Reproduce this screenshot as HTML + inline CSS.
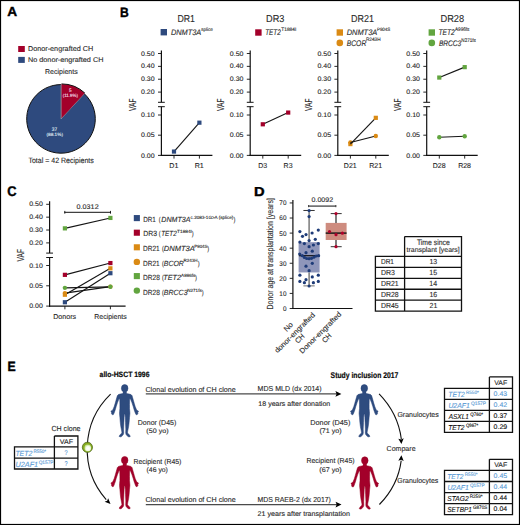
<!DOCTYPE html>
<html><head><meta charset="utf-8"><style>
html,body{margin:0;padding:0;background:#fff;overflow:hidden;}
svg{display:block;font-family:"Liberation Sans", sans-serif;text-rendering:geometricPrecision;}
</style></head><body>
<svg width="520" height="525" viewBox="0 0 520 525" fill="#2b2b2b">
<rect x="0" y="0" width="520" height="525" fill="#fff"/>
<text x="7.36" y="16.40" font-size="13.08" font-weight="bold" fill="#000" textLength="9.90" lengthAdjust="spacingAndGlyphs" stroke="#000" stroke-width="0.4">A</text>
<rect x="18.20" y="46.00" width="6.60" height="6.00" fill="#A3002A" />
<text x="27.90" y="51.10" font-size="7.12" textLength="65.39" lengthAdjust="spacingAndGlyphs" stroke="#2b2b2b" stroke-width="0.12">Donor-engrafted CH</text>
<rect x="18.20" y="56.90" width="6.60" height="6.00" fill="#2E4A7E" />
<text x="28.01" y="61.80" font-size="6.83" textLength="75.39" lengthAdjust="spacingAndGlyphs" stroke="#2b2b2b" stroke-width="0.12">No donor-engrafted CH</text>
<text x="45.03" y="73.70" font-size="7.12" textLength="32.63" lengthAdjust="spacingAndGlyphs" stroke="#2b2b2b" stroke-width="0.12">Recipients</text>
<path d="M61.0,118.9 L84.32,93.75 A34.3,34.3 0 1 1 61.0,84.60000000000001 Z" fill="#2E4A7E" stroke="#111" stroke-width="1.0"/>
<path d="M61.0,118.9 L84.32,93.75 M61.0,118.9 L61.0,84.60000000000001" stroke="#9fb3d6" stroke-width="0.8"/>
<path d="M61.5,118.2 L61.5,83.9 A34.3,34.3 0 0 1 84.82,93.05 Z" fill="#A3002A"/>
<path d="M61.5,83.9 A34.3,34.3 0 0 1 84.82,93.05" fill="none" stroke="#111" stroke-width="1.0"/>
<text x="68.91" y="91.80" font-size="5.09" fill="#f2dde3" textLength="2.58" lengthAdjust="spacingAndGlyphs" stroke="#f2dde3" stroke-width="0.12">5</text>
<text x="62.73" y="97.20" font-size="4.58" fill="#f2dde3" textLength="15.34" lengthAdjust="spacingAndGlyphs" stroke="#f2dde3" stroke-width="0.12">(11.9%)</text>
<text x="51.81" y="130.70" font-size="5.16" fill="#dfe5f0" textLength="5.43" lengthAdjust="spacingAndGlyphs" stroke="#dfe5f0" stroke-width="0.12">37</text>
<text x="46.51" y="136.00" font-size="4.58" fill="#dfe5f0" textLength="16.48" lengthAdjust="spacingAndGlyphs" stroke="#dfe5f0" stroke-width="0.12">(88.1%)</text>
<text x="28.44" y="162.50" font-size="7.70" textLength="65.31" lengthAdjust="spacingAndGlyphs" stroke="#2b2b2b" stroke-width="0.12">Total = 42 Recipients</text>
<text x="119.99" y="16.60" font-size="13.52" font-weight="bold" fill="#000" textLength="8.76" lengthAdjust="spacingAndGlyphs" stroke="#000" stroke-width="0.4">B</text>
<line x1="161.40" y1="50.40" x2="161.40" y2="102.30" stroke="#111" stroke-width="1.2" />
<line x1="158.00" y1="102.30" x2="164.80" y2="102.30" stroke="#111" stroke-width="1.0" />
<line x1="158.00" y1="106.70" x2="164.80" y2="106.70" stroke="#111" stroke-width="1.0" />
<line x1="161.40" y1="106.70" x2="161.40" y2="156.00" stroke="#111" stroke-width="1.2" />
<line x1="160.80" y1="155.40" x2="212.40" y2="155.40" stroke="#111" stroke-width="1.2" />
<line x1="158.00" y1="53.50" x2="161.40" y2="53.50" stroke="#111" stroke-width="0.9" />
<text x="141.03" y="55.60" font-size="6.59" textLength="13.65" lengthAdjust="spacingAndGlyphs" stroke="#2b2b2b" stroke-width="0.12">0.50</text>
<line x1="158.00" y1="66.37" x2="161.40" y2="66.37" stroke="#111" stroke-width="0.9" />
<text x="141.03" y="68.47" font-size="6.59" textLength="13.65" lengthAdjust="spacingAndGlyphs" stroke="#2b2b2b" stroke-width="0.12">0.40</text>
<line x1="158.00" y1="79.23" x2="161.40" y2="79.23" stroke="#111" stroke-width="0.9" />
<text x="141.03" y="81.33" font-size="6.59" textLength="13.65" lengthAdjust="spacingAndGlyphs" stroke="#2b2b2b" stroke-width="0.12">0.30</text>
<line x1="158.00" y1="92.10" x2="161.40" y2="92.10" stroke="#111" stroke-width="0.9" />
<text x="141.03" y="94.20" font-size="6.59" textLength="13.65" lengthAdjust="spacingAndGlyphs" stroke="#2b2b2b" stroke-width="0.12">0.20</text>
<line x1="158.00" y1="115.00" x2="161.40" y2="115.00" stroke="#111" stroke-width="0.9" />
<text x="141.03" y="117.10" font-size="6.59" textLength="13.65" lengthAdjust="spacingAndGlyphs" stroke="#2b2b2b" stroke-width="0.12">0.10</text>
<line x1="158.00" y1="135.20" x2="161.40" y2="135.20" stroke="#111" stroke-width="0.9" />
<text x="141.03" y="137.30" font-size="6.59" textLength="13.67" lengthAdjust="spacingAndGlyphs" stroke="#2b2b2b" stroke-width="0.12">0.05</text>
<line x1="158.00" y1="155.40" x2="161.40" y2="155.40" stroke="#111" stroke-width="0.9" />
<text x="141.03" y="157.50" font-size="6.59" textLength="13.65" lengthAdjust="spacingAndGlyphs" stroke="#2b2b2b" stroke-width="0.12">0.00</text>
<text transform="translate(132.00,104.90) rotate(-90)" x="-6.13" y="3.50" font-size="10.17" fill="#2b2b2b" stroke="#2b2b2b" stroke-width="0.12" textLength="12.49" lengthAdjust="spacingAndGlyphs">VAF</text>
<line x1="174.00" y1="155.40" x2="174.00" y2="158.60" stroke="#111" stroke-width="0.9" />
<line x1="199.40" y1="155.40" x2="199.40" y2="158.60" stroke="#111" stroke-width="0.9" />
<text x="177.38" y="22.10" font-size="10.03" textLength="17.55" lengthAdjust="spacingAndGlyphs" stroke="#2b2b2b" stroke-width="0.12">DR1</text>
<text x="169.33" y="168.00" font-size="7.12" textLength="9.10" lengthAdjust="spacingAndGlyphs" stroke="#2b2b2b" stroke-width="0.12">D1</text>
<text x="194.73" y="168.00" font-size="7.12" textLength="9.10" lengthAdjust="spacingAndGlyphs" stroke="#2b2b2b" stroke-width="0.12">R1</text>
<line x1="250.20" y1="50.40" x2="250.20" y2="102.30" stroke="#111" stroke-width="1.2" />
<line x1="246.80" y1="102.30" x2="253.60" y2="102.30" stroke="#111" stroke-width="1.0" />
<line x1="246.80" y1="106.70" x2="253.60" y2="106.70" stroke="#111" stroke-width="1.0" />
<line x1="250.20" y1="106.70" x2="250.20" y2="156.00" stroke="#111" stroke-width="1.2" />
<line x1="249.60" y1="155.40" x2="301.20" y2="155.40" stroke="#111" stroke-width="1.2" />
<line x1="246.80" y1="53.50" x2="250.20" y2="53.50" stroke="#111" stroke-width="0.9" />
<text x="229.83" y="55.60" font-size="6.59" textLength="13.65" lengthAdjust="spacingAndGlyphs" stroke="#2b2b2b" stroke-width="0.12">0.50</text>
<line x1="246.80" y1="66.37" x2="250.20" y2="66.37" stroke="#111" stroke-width="0.9" />
<text x="229.83" y="68.47" font-size="6.59" textLength="13.65" lengthAdjust="spacingAndGlyphs" stroke="#2b2b2b" stroke-width="0.12">0.40</text>
<line x1="246.80" y1="79.23" x2="250.20" y2="79.23" stroke="#111" stroke-width="0.9" />
<text x="229.83" y="81.33" font-size="6.59" textLength="13.65" lengthAdjust="spacingAndGlyphs" stroke="#2b2b2b" stroke-width="0.12">0.30</text>
<line x1="246.80" y1="92.10" x2="250.20" y2="92.10" stroke="#111" stroke-width="0.9" />
<text x="229.83" y="94.20" font-size="6.59" textLength="13.65" lengthAdjust="spacingAndGlyphs" stroke="#2b2b2b" stroke-width="0.12">0.20</text>
<line x1="246.80" y1="115.00" x2="250.20" y2="115.00" stroke="#111" stroke-width="0.9" />
<text x="229.83" y="117.10" font-size="6.59" textLength="13.65" lengthAdjust="spacingAndGlyphs" stroke="#2b2b2b" stroke-width="0.12">0.10</text>
<line x1="246.80" y1="135.20" x2="250.20" y2="135.20" stroke="#111" stroke-width="0.9" />
<text x="229.83" y="137.30" font-size="6.59" textLength="13.67" lengthAdjust="spacingAndGlyphs" stroke="#2b2b2b" stroke-width="0.12">0.05</text>
<line x1="246.80" y1="155.40" x2="250.20" y2="155.40" stroke="#111" stroke-width="0.9" />
<text x="229.83" y="157.50" font-size="6.59" textLength="13.65" lengthAdjust="spacingAndGlyphs" stroke="#2b2b2b" stroke-width="0.12">0.00</text>
<text transform="translate(220.80,104.90) rotate(-90)" x="-6.13" y="3.50" font-size="10.17" fill="#2b2b2b" stroke="#2b2b2b" stroke-width="0.12" textLength="12.49" lengthAdjust="spacingAndGlyphs">VAF</text>
<line x1="262.80" y1="155.40" x2="262.80" y2="158.60" stroke="#111" stroke-width="0.9" />
<line x1="288.20" y1="155.40" x2="288.20" y2="158.60" stroke="#111" stroke-width="0.9" />
<text x="266.05" y="22.10" font-size="10.03" textLength="18.36" lengthAdjust="spacingAndGlyphs" stroke="#2b2b2b" stroke-width="0.12">DR3</text>
<text x="258.18" y="168.00" font-size="7.12" textLength="8.97" lengthAdjust="spacingAndGlyphs" stroke="#2b2b2b" stroke-width="0.12">D3</text>
<text x="283.58" y="168.00" font-size="7.12" textLength="8.97" lengthAdjust="spacingAndGlyphs" stroke="#2b2b2b" stroke-width="0.12">R3</text>
<line x1="337.80" y1="50.40" x2="337.80" y2="102.30" stroke="#111" stroke-width="1.2" />
<line x1="334.40" y1="102.30" x2="341.20" y2="102.30" stroke="#111" stroke-width="1.0" />
<line x1="334.40" y1="106.70" x2="341.20" y2="106.70" stroke="#111" stroke-width="1.0" />
<line x1="337.80" y1="106.70" x2="337.80" y2="156.00" stroke="#111" stroke-width="1.2" />
<line x1="337.20" y1="155.40" x2="388.80" y2="155.40" stroke="#111" stroke-width="1.2" />
<line x1="334.40" y1="53.50" x2="337.80" y2="53.50" stroke="#111" stroke-width="0.9" />
<text x="317.43" y="55.60" font-size="6.59" textLength="13.65" lengthAdjust="spacingAndGlyphs" stroke="#2b2b2b" stroke-width="0.12">0.50</text>
<line x1="334.40" y1="66.37" x2="337.80" y2="66.37" stroke="#111" stroke-width="0.9" />
<text x="317.43" y="68.47" font-size="6.59" textLength="13.65" lengthAdjust="spacingAndGlyphs" stroke="#2b2b2b" stroke-width="0.12">0.40</text>
<line x1="334.40" y1="79.23" x2="337.80" y2="79.23" stroke="#111" stroke-width="0.9" />
<text x="317.43" y="81.33" font-size="6.59" textLength="13.65" lengthAdjust="spacingAndGlyphs" stroke="#2b2b2b" stroke-width="0.12">0.30</text>
<line x1="334.40" y1="92.10" x2="337.80" y2="92.10" stroke="#111" stroke-width="0.9" />
<text x="317.43" y="94.20" font-size="6.59" textLength="13.65" lengthAdjust="spacingAndGlyphs" stroke="#2b2b2b" stroke-width="0.12">0.20</text>
<line x1="334.40" y1="115.00" x2="337.80" y2="115.00" stroke="#111" stroke-width="0.9" />
<text x="317.43" y="117.10" font-size="6.59" textLength="13.65" lengthAdjust="spacingAndGlyphs" stroke="#2b2b2b" stroke-width="0.12">0.10</text>
<line x1="334.40" y1="135.20" x2="337.80" y2="135.20" stroke="#111" stroke-width="0.9" />
<text x="317.43" y="137.30" font-size="6.59" textLength="13.67" lengthAdjust="spacingAndGlyphs" stroke="#2b2b2b" stroke-width="0.12">0.05</text>
<line x1="334.40" y1="155.40" x2="337.80" y2="155.40" stroke="#111" stroke-width="0.9" />
<text x="317.43" y="157.50" font-size="6.59" textLength="13.65" lengthAdjust="spacingAndGlyphs" stroke="#2b2b2b" stroke-width="0.12">0.00</text>
<text transform="translate(308.40,104.90) rotate(-90)" x="-6.13" y="3.50" font-size="10.17" fill="#2b2b2b" stroke="#2b2b2b" stroke-width="0.12" textLength="12.49" lengthAdjust="spacingAndGlyphs">VAF</text>
<line x1="350.40" y1="155.40" x2="350.40" y2="158.60" stroke="#111" stroke-width="0.9" />
<line x1="375.80" y1="155.40" x2="375.80" y2="158.60" stroke="#111" stroke-width="0.9" />
<text x="351.06" y="22.10" font-size="10.03" textLength="22.98" lengthAdjust="spacingAndGlyphs" stroke="#2b2b2b" stroke-width="0.12">DR21</text>
<text x="343.85" y="168.00" font-size="7.12" textLength="12.87" lengthAdjust="spacingAndGlyphs" stroke="#2b2b2b" stroke-width="0.12">D21</text>
<text x="369.25" y="168.00" font-size="7.12" textLength="12.87" lengthAdjust="spacingAndGlyphs" stroke="#2b2b2b" stroke-width="0.12">R21</text>
<line x1="426.70" y1="50.40" x2="426.70" y2="102.30" stroke="#111" stroke-width="1.2" />
<line x1="423.30" y1="102.30" x2="430.10" y2="102.30" stroke="#111" stroke-width="1.0" />
<line x1="423.30" y1="106.70" x2="430.10" y2="106.70" stroke="#111" stroke-width="1.0" />
<line x1="426.70" y1="106.70" x2="426.70" y2="156.00" stroke="#111" stroke-width="1.2" />
<line x1="426.10" y1="155.40" x2="477.70" y2="155.40" stroke="#111" stroke-width="1.2" />
<line x1="423.30" y1="53.50" x2="426.70" y2="53.50" stroke="#111" stroke-width="0.9" />
<text x="406.33" y="55.60" font-size="6.59" textLength="13.65" lengthAdjust="spacingAndGlyphs" stroke="#2b2b2b" stroke-width="0.12">0.50</text>
<line x1="423.30" y1="66.37" x2="426.70" y2="66.37" stroke="#111" stroke-width="0.9" />
<text x="406.33" y="68.47" font-size="6.59" textLength="13.65" lengthAdjust="spacingAndGlyphs" stroke="#2b2b2b" stroke-width="0.12">0.40</text>
<line x1="423.30" y1="79.23" x2="426.70" y2="79.23" stroke="#111" stroke-width="0.9" />
<text x="406.33" y="81.33" font-size="6.59" textLength="13.65" lengthAdjust="spacingAndGlyphs" stroke="#2b2b2b" stroke-width="0.12">0.30</text>
<line x1="423.30" y1="92.10" x2="426.70" y2="92.10" stroke="#111" stroke-width="0.9" />
<text x="406.33" y="94.20" font-size="6.59" textLength="13.65" lengthAdjust="spacingAndGlyphs" stroke="#2b2b2b" stroke-width="0.12">0.20</text>
<line x1="423.30" y1="115.00" x2="426.70" y2="115.00" stroke="#111" stroke-width="0.9" />
<text x="406.33" y="117.10" font-size="6.59" textLength="13.65" lengthAdjust="spacingAndGlyphs" stroke="#2b2b2b" stroke-width="0.12">0.10</text>
<line x1="423.30" y1="135.20" x2="426.70" y2="135.20" stroke="#111" stroke-width="0.9" />
<text x="406.33" y="137.30" font-size="6.59" textLength="13.67" lengthAdjust="spacingAndGlyphs" stroke="#2b2b2b" stroke-width="0.12">0.05</text>
<line x1="423.30" y1="155.40" x2="426.70" y2="155.40" stroke="#111" stroke-width="0.9" />
<text x="406.33" y="157.50" font-size="6.59" textLength="13.65" lengthAdjust="spacingAndGlyphs" stroke="#2b2b2b" stroke-width="0.12">0.00</text>
<text transform="translate(397.30,104.90) rotate(-90)" x="-6.13" y="3.50" font-size="10.17" fill="#2b2b2b" stroke="#2b2b2b" stroke-width="0.12" textLength="12.49" lengthAdjust="spacingAndGlyphs">VAF</text>
<line x1="439.30" y1="155.40" x2="439.30" y2="158.60" stroke="#111" stroke-width="0.9" />
<line x1="464.70" y1="155.40" x2="464.70" y2="158.60" stroke="#111" stroke-width="0.9" />
<text x="440.44" y="22.10" font-size="10.03" textLength="23.77" lengthAdjust="spacingAndGlyphs" stroke="#2b2b2b" stroke-width="0.12">DR28</text>
<text x="432.73" y="168.00" font-size="7.12" textLength="12.87" lengthAdjust="spacingAndGlyphs" stroke="#2b2b2b" stroke-width="0.12">D28</text>
<text x="458.13" y="168.00" font-size="7.12" textLength="12.87" lengthAdjust="spacingAndGlyphs" stroke="#2b2b2b" stroke-width="0.12">R28</text>
<line x1="174.00" y1="151.56" x2="199.40" y2="122.68" stroke="#151515" stroke-width="1.15" />
<rect x="171.90" y="149.46" width="4.20" height="4.20" fill="#2E4A7E" />
<rect x="197.30" y="120.58" width="4.20" height="4.20" fill="#2E4A7E" />
<line x1="262.80" y1="124.29" x2="288.20" y2="112.58" stroke="#151515" stroke-width="1.15" />
<rect x="260.70" y="122.19" width="4.20" height="4.20" fill="#A3002A" />
<rect x="286.10" y="110.48" width="4.20" height="4.20" fill="#A3002A" />
<circle cx="350.40" cy="142.47" r="2.20" fill="#DA8A14" />
<rect x="348.30" y="141.99" width="4.20" height="4.20" fill="#DA8A14" />
<line x1="350.40" y1="144.09" x2="375.80" y2="117.83" stroke="#151515" stroke-width="1.15" />
<line x1="350.40" y1="142.47" x2="375.80" y2="136.01" stroke="#151515" stroke-width="1.15" />
<rect x="373.70" y="115.73" width="4.20" height="4.20" fill="#DA8A14" />
<circle cx="375.80" cy="136.01" r="2.20" fill="#DA8A14" />
<line x1="439.30" y1="77.56" x2="464.70" y2="67.14" stroke="#151515" stroke-width="1.15" />
<line x1="439.30" y1="137.22" x2="464.70" y2="136.21" stroke="#151515" stroke-width="1.15" />
<rect x="437.20" y="75.46" width="4.20" height="4.20" fill="#62A53F" />
<rect x="462.60" y="65.04" width="4.20" height="4.20" fill="#62A53F" />
<circle cx="439.30" cy="137.22" r="2.20" fill="#62A53F" />
<circle cx="464.70" cy="136.21" r="2.20" fill="#62A53F" />
<rect x="160.60" y="29.00" width="6.40" height="6.40" fill="#2E4A7E" />
<text x="170.97" y="34.90" font-size="7.99" font-style="italic" textLength="30.32" lengthAdjust="spacingAndGlyphs" stroke="#2b2b2b" stroke-width="0.12">DNMT3A</text>
<text x="201.17" y="31.00" font-size="4.83" textLength="11.63" lengthAdjust="spacingAndGlyphs" stroke="#2b2b2b" stroke-width="0.12">splice</text>
<rect x="255.20" y="29.30" width="6.40" height="6.40" fill="#A3002A" />
<text x="265.13" y="34.80" font-size="8.14" font-style="italic" textLength="15.57" lengthAdjust="spacingAndGlyphs" stroke="#2b2b2b" stroke-width="0.12">TET2</text>
<text x="281.29" y="30.80" font-size="5.09" textLength="15.05" lengthAdjust="spacingAndGlyphs" stroke="#2b2b2b" stroke-width="0.12">T1884I</text>
<rect x="336.60" y="29.30" width="6.40" height="6.40" fill="#DA8A14" />
<text x="346.67" y="34.90" font-size="7.99" font-style="italic" textLength="30.63" lengthAdjust="spacingAndGlyphs" stroke="#2b2b2b" stroke-width="0.12">DNMT3A</text>
<text x="376.94" y="30.70" font-size="4.80" textLength="13.27" lengthAdjust="spacingAndGlyphs" stroke="#2b2b2b" stroke-width="0.12">P904S</text>
<circle cx="339.80" cy="42.90" r="3.30" fill="#DA8A14" />
<text x="346.69" y="45.60" font-size="8.14" font-style="italic" textLength="19.62" lengthAdjust="spacingAndGlyphs" stroke="#2b2b2b" stroke-width="0.12">BCOR</text>
<text x="365.91" y="41.30" font-size="5.09" textLength="14.67" lengthAdjust="spacingAndGlyphs" stroke="#2b2b2b" stroke-width="0.12">R243H</text>
<rect x="428.60" y="29.30" width="6.40" height="6.40" fill="#62A53F" />
<text x="438.50" y="34.80" font-size="8.14" font-style="italic" textLength="16.30" lengthAdjust="spacingAndGlyphs" stroke="#2b2b2b" stroke-width="0.12">TET2</text>
<text x="454.99" y="30.90" font-size="5.23" textLength="14.38" lengthAdjust="spacingAndGlyphs" stroke="#2b2b2b" stroke-width="0.12">A996fs</text>
<circle cx="431.80" cy="42.90" r="3.30" fill="#62A53F" />
<text x="438.90" y="45.60" font-size="7.99" font-style="italic" textLength="22.36" lengthAdjust="spacingAndGlyphs" stroke="#2b2b2b" stroke-width="0.12">BRCC3</text>
<text x="461.32" y="41.60" font-size="5.23" textLength="14.54" lengthAdjust="spacingAndGlyphs" stroke="#2b2b2b" stroke-width="0.12">N271fs</text>
<text x="7.27" y="195.90" font-size="14.10" font-weight="bold" fill="#000" textLength="9.28" lengthAdjust="spacingAndGlyphs" stroke="#000" stroke-width="0.4">C</text>
<line x1="49.60" y1="201.20" x2="49.60" y2="253.10" stroke="#111" stroke-width="1.2" />
<line x1="46.20" y1="253.10" x2="53.00" y2="253.10" stroke="#111" stroke-width="1.0" />
<line x1="46.20" y1="257.50" x2="53.00" y2="257.50" stroke="#111" stroke-width="1.0" />
<line x1="49.60" y1="257.50" x2="49.60" y2="306.70" stroke="#111" stroke-width="1.2" />
<line x1="49.00" y1="306.10" x2="125.60" y2="306.10" stroke="#111" stroke-width="1.2" />
<line x1="46.20" y1="204.30" x2="49.60" y2="204.30" stroke="#111" stroke-width="0.9" />
<text x="29.23" y="206.40" font-size="6.59" textLength="13.65" lengthAdjust="spacingAndGlyphs" stroke="#2b2b2b" stroke-width="0.12">0.50</text>
<line x1="46.20" y1="217.17" x2="49.60" y2="217.17" stroke="#111" stroke-width="0.9" />
<text x="29.23" y="219.27" font-size="6.59" textLength="13.65" lengthAdjust="spacingAndGlyphs" stroke="#2b2b2b" stroke-width="0.12">0.40</text>
<line x1="46.20" y1="230.03" x2="49.60" y2="230.03" stroke="#111" stroke-width="0.9" />
<text x="29.23" y="232.13" font-size="6.59" textLength="13.65" lengthAdjust="spacingAndGlyphs" stroke="#2b2b2b" stroke-width="0.12">0.30</text>
<line x1="46.20" y1="242.90" x2="49.60" y2="242.90" stroke="#111" stroke-width="0.9" />
<text x="29.23" y="245.00" font-size="6.59" textLength="13.65" lengthAdjust="spacingAndGlyphs" stroke="#2b2b2b" stroke-width="0.12">0.20</text>
<line x1="46.20" y1="265.50" x2="49.60" y2="265.50" stroke="#111" stroke-width="0.9" />
<text x="29.23" y="267.60" font-size="6.59" textLength="13.65" lengthAdjust="spacingAndGlyphs" stroke="#2b2b2b" stroke-width="0.12">0.10</text>
<line x1="46.20" y1="285.80" x2="49.60" y2="285.80" stroke="#111" stroke-width="0.9" />
<text x="29.23" y="287.90" font-size="6.59" textLength="13.67" lengthAdjust="spacingAndGlyphs" stroke="#2b2b2b" stroke-width="0.12">0.05</text>
<line x1="46.20" y1="306.10" x2="49.60" y2="306.10" stroke="#111" stroke-width="0.9" />
<text x="29.23" y="308.20" font-size="6.59" textLength="13.65" lengthAdjust="spacingAndGlyphs" stroke="#2b2b2b" stroke-width="0.12">0.00</text>
<text transform="translate(20.20,255.30) rotate(-90)" x="-6.13" y="3.50" font-size="10.17" fill="#2b2b2b" stroke="#2b2b2b" stroke-width="0.12" textLength="12.49" lengthAdjust="spacingAndGlyphs">VAF</text>
<line x1="64.90" y1="306.10" x2="64.90" y2="309.30" stroke="#111" stroke-width="0.9" />
<line x1="110.40" y1="306.10" x2="110.40" y2="309.30" stroke="#111" stroke-width="0.9" />
<text x="53.22" y="318.50" font-size="7.12" textLength="22.94" lengthAdjust="spacingAndGlyphs" stroke="#2b2b2b" stroke-width="0.12">Donors</text>
<text x="94.33" y="318.50" font-size="7.12" textLength="32.42" lengthAdjust="spacingAndGlyphs" stroke="#2b2b2b" stroke-width="0.12">Recipients</text>
<line x1="64.30" y1="212.30" x2="111.00" y2="212.30" stroke="#111" stroke-width="1.0" />
<line x1="64.80" y1="210.90" x2="64.80" y2="213.70" stroke="#111" stroke-width="0.9" />
<line x1="110.50" y1="210.90" x2="110.50" y2="213.70" stroke="#111" stroke-width="0.9" />
<text x="76.62" y="208.80" font-size="6.73" textLength="22.04" lengthAdjust="spacingAndGlyphs" stroke="#2b2b2b" stroke-width="0.12">0.0312</text>
<line x1="64.90" y1="228.36" x2="110.40" y2="217.94" stroke="#151515" stroke-width="1.15" />
<line x1="64.90" y1="274.84" x2="110.40" y2="263.06" stroke="#151515" stroke-width="1.15" />
<line x1="64.90" y1="293.11" x2="110.40" y2="286.61" stroke="#151515" stroke-width="1.15" />
<line x1="64.90" y1="287.83" x2="110.40" y2="286.81" stroke="#151515" stroke-width="1.15" />
<line x1="64.90" y1="294.73" x2="110.40" y2="268.34" stroke="#151515" stroke-width="1.15" />
<line x1="64.90" y1="302.24" x2="110.40" y2="273.21" stroke="#151515" stroke-width="1.15" />
<rect x="62.80" y="226.26" width="4.20" height="4.20" fill="#62A53F" />
<rect x="108.30" y="215.84" width="4.20" height="4.20" fill="#62A53F" />
<rect x="62.80" y="272.74" width="4.20" height="4.20" fill="#A3002A" />
<rect x="108.30" y="260.96" width="4.20" height="4.20" fill="#A3002A" />
<circle cx="64.90" cy="293.11" r="2.20" fill="#DA8A14" />
<circle cx="110.40" cy="286.61" r="2.20" fill="#DA8A14" />
<circle cx="64.90" cy="287.83" r="2.20" fill="#62A53F" />
<circle cx="110.40" cy="286.81" r="2.20" fill="#62A53F" />
<rect x="62.80" y="292.63" width="4.20" height="4.20" fill="#DA8A14" />
<rect x="108.30" y="266.24" width="4.20" height="4.20" fill="#DA8A14" />
<rect x="62.80" y="300.14" width="4.20" height="4.20" fill="#2E4A7E" />
<rect x="108.30" y="271.11" width="4.20" height="4.20" fill="#2E4A7E" />
<rect x="133.80" y="215.05" width="6.10" height="6.10" fill="#2E4A7E" />
<text x="143.23" y="221.80" font-size="7.56" textLength="12.68" lengthAdjust="spacingAndGlyphs" stroke="#2b2b2b" stroke-width="0.12">DR1</text>
<text x="158.65" y="221.70" font-size="7.31" textLength="1.88" lengthAdjust="spacingAndGlyphs" stroke="#2b2b2b" stroke-width="0.12">(</text>
<text x="161.28" y="221.80" font-size="7.56" font-style="italic" textLength="29.10" lengthAdjust="spacingAndGlyphs" stroke="#2b2b2b" stroke-width="0.12">DNMT3A</text>
<text x="190.61" y="218.60" font-size="4.65" textLength="42.77" lengthAdjust="spacingAndGlyphs" stroke="#2b2b2b" stroke-width="0.12">c.2083-1G&gt;A (splice)</text>
<text x="233.57" y="221.70" font-size="7.31" textLength="1.88" lengthAdjust="spacingAndGlyphs" stroke="#2b2b2b" stroke-width="0.12">)</text>
<rect x="133.80" y="229.65" width="6.10" height="6.10" fill="#A3002A" />
<text x="143.18" y="236.40" font-size="7.56" textLength="13.82" lengthAdjust="spacingAndGlyphs" stroke="#2b2b2b" stroke-width="0.12">DR3</text>
<text x="158.85" y="236.30" font-size="7.31" textLength="1.88" lengthAdjust="spacingAndGlyphs" stroke="#2b2b2b" stroke-width="0.12">(</text>
<text x="161.23" y="236.40" font-size="7.56" font-style="italic" textLength="15.46" lengthAdjust="spacingAndGlyphs" stroke="#2b2b2b" stroke-width="0.12">TET2</text>
<text x="177.09" y="233.20" font-size="4.65" textLength="14.85" lengthAdjust="spacingAndGlyphs" stroke="#2b2b2b" stroke-width="0.12">T1884I</text>
<text x="191.67" y="236.30" font-size="7.31" textLength="1.88" lengthAdjust="spacingAndGlyphs" stroke="#2b2b2b" stroke-width="0.12">)</text>
<rect x="133.80" y="244.25" width="6.10" height="6.10" fill="#DA8A14" />
<text x="143.07" y="251.00" font-size="7.56" textLength="16.65" lengthAdjust="spacingAndGlyphs" stroke="#2b2b2b" stroke-width="0.12">DR21</text>
<text x="161.95" y="250.90" font-size="7.31" textLength="1.88" lengthAdjust="spacingAndGlyphs" stroke="#2b2b2b" stroke-width="0.12">(</text>
<text x="163.77" y="251.00" font-size="7.56" font-style="italic" textLength="31.04" lengthAdjust="spacingAndGlyphs" stroke="#2b2b2b" stroke-width="0.12">DNMT3A</text>
<text x="194.24" y="247.80" font-size="4.65" textLength="13.27" lengthAdjust="spacingAndGlyphs" stroke="#2b2b2b" stroke-width="0.12">P904S</text>
<text x="207.37" y="250.90" font-size="7.31" textLength="1.88" lengthAdjust="spacingAndGlyphs" stroke="#2b2b2b" stroke-width="0.12">)</text>
<circle cx="136.85" cy="261.90" r="3.20" fill="#DA8A14" />
<text x="143.07" y="265.60" font-size="7.56" textLength="16.65" lengthAdjust="spacingAndGlyphs" stroke="#2b2b2b" stroke-width="0.12">DR21</text>
<text x="161.95" y="265.50" font-size="7.31" textLength="1.88" lengthAdjust="spacingAndGlyphs" stroke="#2b2b2b" stroke-width="0.12">(</text>
<text x="163.79" y="265.60" font-size="7.56" font-style="italic" textLength="20.13" lengthAdjust="spacingAndGlyphs" stroke="#2b2b2b" stroke-width="0.12">BCOR</text>
<text x="183.53" y="262.40" font-size="4.65" textLength="14.04" lengthAdjust="spacingAndGlyphs" stroke="#2b2b2b" stroke-width="0.12">R243H</text>
<text x="197.87" y="265.50" font-size="7.31" textLength="1.88" lengthAdjust="spacingAndGlyphs" stroke="#2b2b2b" stroke-width="0.12">)</text>
<rect x="133.80" y="273.05" width="6.10" height="6.10" fill="#62A53F" />
<text x="143.06" y="280.20" font-size="7.56" textLength="16.83" lengthAdjust="spacingAndGlyphs" stroke="#2b2b2b" stroke-width="0.12">DR28</text>
<text x="161.95" y="280.10" font-size="7.31" textLength="1.88" lengthAdjust="spacingAndGlyphs" stroke="#2b2b2b" stroke-width="0.12">(</text>
<text x="163.36" y="280.20" font-size="7.56" font-style="italic" textLength="17.55" lengthAdjust="spacingAndGlyphs" stroke="#2b2b2b" stroke-width="0.12">TET2</text>
<text x="181.09" y="277.00" font-size="4.65" textLength="14.27" lengthAdjust="spacingAndGlyphs" stroke="#2b2b2b" stroke-width="0.12">A996fs</text>
<text x="195.07" y="280.10" font-size="7.31" textLength="1.88" lengthAdjust="spacingAndGlyphs" stroke="#2b2b2b" stroke-width="0.12">)</text>
<circle cx="136.85" cy="290.60" r="3.20" fill="#62A53F" />
<text x="143.06" y="294.80" font-size="7.56" textLength="16.83" lengthAdjust="spacingAndGlyphs" stroke="#2b2b2b" stroke-width="0.12">DR28</text>
<text x="161.95" y="294.70" font-size="7.31" textLength="1.88" lengthAdjust="spacingAndGlyphs" stroke="#2b2b2b" stroke-width="0.12">(</text>
<text x="163.78" y="294.80" font-size="7.56" font-style="italic" textLength="23.78" lengthAdjust="spacingAndGlyphs" stroke="#2b2b2b" stroke-width="0.12">BRCC3</text>
<text x="187.33" y="291.60" font-size="4.65" textLength="14.33" lengthAdjust="spacingAndGlyphs" stroke="#2b2b2b" stroke-width="0.12">N271fs</text>
<text x="201.67" y="294.70" font-size="7.31" textLength="1.88" lengthAdjust="spacingAndGlyphs" stroke="#2b2b2b" stroke-width="0.12">)</text>
<text x="253.92" y="195.80" font-size="12.94" font-weight="bold" fill="#000" textLength="10.60" lengthAdjust="spacingAndGlyphs" stroke="#000" stroke-width="0.4">D</text>
<line x1="292.90" y1="199.90" x2="292.90" y2="309.10" stroke="#111" stroke-width="1.2" />
<line x1="292.30" y1="308.50" x2="352.50" y2="308.50" stroke="#111" stroke-width="1.2" />
<line x1="289.70" y1="308.50" x2="292.90" y2="308.50" stroke="#111" stroke-width="0.9" />
<text x="282.89" y="310.90" font-size="6.73" textLength="3.56" lengthAdjust="spacingAndGlyphs" stroke="#2b2b2b" stroke-width="0.12">0</text>
<line x1="289.70" y1="293.42" x2="292.90" y2="293.42" stroke="#111" stroke-width="0.9" />
<text x="279.34" y="295.82" font-size="6.73" textLength="7.11" lengthAdjust="spacingAndGlyphs" stroke="#2b2b2b" stroke-width="0.12">10</text>
<line x1="289.70" y1="278.34" x2="292.90" y2="278.34" stroke="#111" stroke-width="0.9" />
<text x="279.34" y="280.74" font-size="6.73" textLength="7.11" lengthAdjust="spacingAndGlyphs" stroke="#2b2b2b" stroke-width="0.12">20</text>
<line x1="289.70" y1="263.26" x2="292.90" y2="263.26" stroke="#111" stroke-width="0.9" />
<text x="279.34" y="265.66" font-size="6.73" textLength="7.11" lengthAdjust="spacingAndGlyphs" stroke="#2b2b2b" stroke-width="0.12">30</text>
<line x1="289.70" y1="248.18" x2="292.90" y2="248.18" stroke="#111" stroke-width="0.9" />
<text x="279.34" y="250.58" font-size="6.73" textLength="7.11" lengthAdjust="spacingAndGlyphs" stroke="#2b2b2b" stroke-width="0.12">40</text>
<line x1="289.70" y1="233.10" x2="292.90" y2="233.10" stroke="#111" stroke-width="0.9" />
<text x="279.34" y="235.50" font-size="6.73" textLength="7.11" lengthAdjust="spacingAndGlyphs" stroke="#2b2b2b" stroke-width="0.12">50</text>
<line x1="289.70" y1="218.02" x2="292.90" y2="218.02" stroke="#111" stroke-width="0.9" />
<text x="279.34" y="220.42" font-size="6.73" textLength="7.11" lengthAdjust="spacingAndGlyphs" stroke="#2b2b2b" stroke-width="0.12">60</text>
<line x1="289.70" y1="202.94" x2="292.90" y2="202.94" stroke="#111" stroke-width="0.9" />
<text x="279.34" y="205.34" font-size="6.73" textLength="7.11" lengthAdjust="spacingAndGlyphs" stroke="#2b2b2b" stroke-width="0.12">70</text>
<text transform="translate(270.00,253.80) rotate(-90)" x="-55.78" y="3.20" font-size="8.83" fill="#2b2b2b" stroke="#2b2b2b" stroke-width="0.12" textLength="111.48" lengthAdjust="spacingAndGlyphs">Donor age at transplantation [years]</text>
<rect x="298.60" y="242.15" width="21.00" height="30.31" fill="#8F96BA" />
<line x1="309.10" y1="210.48" x2="309.10" y2="242.15" stroke="#707070" stroke-width="1.4" />
<line x1="309.10" y1="272.46" x2="309.10" y2="285.88" stroke="#707070" stroke-width="1.4" />
<line x1="303.40" y1="210.48" x2="314.70" y2="210.48" stroke="#333" stroke-width="1.0" />
<line x1="303.40" y1="285.88" x2="314.70" y2="285.88" stroke="#707070" stroke-width="1.0" />
<line x1="298.90" y1="255.70" x2="318.50" y2="255.70" stroke="#111" stroke-width="1.2" />
<rect x="325.70" y="222.90" width="20.90" height="17.10" fill="#CE8C7F" />
<line x1="336.00" y1="213.60" x2="336.00" y2="222.90" stroke="#3a3a3a" stroke-width="1.3" />
<line x1="336.00" y1="240.00" x2="336.00" y2="246.70" stroke="#3a3a3a" stroke-width="1.3" />
<line x1="330.70" y1="213.60" x2="341.70" y2="213.60" stroke="#333" stroke-width="1.0" />
<line x1="330.70" y1="246.70" x2="341.70" y2="246.70" stroke="#333" stroke-width="1.0" />
<line x1="325.70" y1="233.10" x2="346.60" y2="233.10" stroke="#111" stroke-width="1.4" />
<circle cx="309.10" cy="210.60" r="1.60" fill="#1e3b78" />
<circle cx="309.10" cy="216.60" r="1.60" fill="#1e3b78" />
<circle cx="299.90" cy="231.60" r="1.60" fill="#1e3b78" />
<circle cx="318.30" cy="230.10" r="1.60" fill="#1e3b78" />
<circle cx="312.10" cy="233.00" r="1.60" fill="#1e3b78" />
<circle cx="306.00" cy="234.60" r="1.60" fill="#1e3b78" />
<circle cx="302.50" cy="236.30" r="1.60" fill="#1e3b78" />
<circle cx="315.30" cy="239.30" r="1.60" fill="#1e3b78" />
<circle cx="309.10" cy="240.60" r="1.60" fill="#1e3b78" />
<circle cx="299.90" cy="242.10" r="1.60" fill="#1e3b78" />
<circle cx="304.40" cy="243.60" r="1.60" fill="#1e3b78" />
<circle cx="318.30" cy="243.60" r="1.60" fill="#1e3b78" />
<circle cx="313.40" cy="245.00" r="1.60" fill="#1e3b78" />
<circle cx="309.10" cy="246.70" r="1.60" fill="#1e3b78" />
<circle cx="306.00" cy="252.70" r="1.60" fill="#1e3b78" />
<circle cx="312.30" cy="251.20" r="1.60" fill="#1e3b78" />
<circle cx="299.70" cy="254.00" r="1.60" fill="#1e3b78" />
<circle cx="302.30" cy="255.70" r="1.60" fill="#1e3b78" />
<circle cx="304.40" cy="257.40" r="1.60" fill="#1e3b78" />
<circle cx="306.70" cy="258.50" r="1.60" fill="#1e3b78" />
<circle cx="309.10" cy="258.70" r="1.60" fill="#1e3b78" />
<circle cx="311.50" cy="258.30" r="1.60" fill="#1e3b78" />
<circle cx="313.90" cy="257.20" r="1.60" fill="#1e3b78" />
<circle cx="316.20" cy="256.00" r="1.60" fill="#1e3b78" />
<circle cx="318.60" cy="255.70" r="1.60" fill="#1e3b78" />
<circle cx="312.30" cy="263.30" r="1.60" fill="#1e3b78" />
<circle cx="306.00" cy="266.20" r="1.60" fill="#1e3b78" />
<circle cx="309.10" cy="270.70" r="1.60" fill="#1e3b78" />
<circle cx="299.90" cy="275.20" r="1.60" fill="#1e3b78" />
<circle cx="318.30" cy="275.20" r="1.60" fill="#1e3b78" />
<circle cx="312.30" cy="276.90" r="1.60" fill="#1e3b78" />
<circle cx="306.00" cy="279.70" r="1.60" fill="#1e3b78" />
<circle cx="299.90" cy="281.40" r="1.60" fill="#1e3b78" />
<circle cx="318.30" cy="281.40" r="1.60" fill="#1e3b78" />
<circle cx="304.40" cy="282.70" r="1.60" fill="#1e3b78" />
<circle cx="313.40" cy="282.70" r="1.60" fill="#1e3b78" />
<circle cx="309.10" cy="286.00" r="1.60" fill="#1e3b78" />
<circle cx="336.00" cy="213.60" r="1.60" fill="#b0002a" />
<circle cx="329.50" cy="231.60" r="1.60" fill="#b0002a" />
<circle cx="336.00" cy="234.70" r="1.60" fill="#b0002a" />
<circle cx="342.40" cy="233.20" r="1.60" fill="#b0002a" />
<circle cx="336.00" cy="246.70" r="1.60" fill="#b0002a" />
<line x1="308.10" y1="206.10" x2="336.20" y2="206.10" stroke="#444" stroke-width="1.3" />
<line x1="308.60" y1="205.00" x2="308.60" y2="207.20" stroke="#444" stroke-width="1.0" />
<line x1="335.80" y1="205.00" x2="335.80" y2="207.20" stroke="#444" stroke-width="1.0" />
<text x="311.52" y="201.80" font-size="6.73" textLength="21.63" lengthAdjust="spacingAndGlyphs" stroke="#2b2b2b" stroke-width="0.12">0.0092</text>
<text transform="translate(288.30,326.60) rotate(-45)" x="-4.91" y="2.55" font-size="7.41" fill="#2b2b2b" stroke="#2b2b2b" stroke-width="0.12" textLength="9.52" lengthAdjust="spacingAndGlyphs">No</text>
<text transform="translate(294.60,332.60) rotate(-45)" x="-26.72" y="2.65" font-size="7.31" fill="#2b2b2b" stroke="#2b2b2b" stroke-width="0.12" textLength="53.60" lengthAdjust="spacingAndGlyphs">donor-engrafted</text>
<text transform="translate(299.70,338.50) rotate(-45)" x="-4.85" y="2.55" font-size="7.30" fill="#2b2b2b" stroke="#2b2b2b" stroke-width="0.12" textLength="9.91" lengthAdjust="spacingAndGlyphs">CH</text>
<text transform="translate(320.20,332.40) rotate(-45)" x="-27.93" y="2.65" font-size="7.31" fill="#2b2b2b" stroke="#2b2b2b" stroke-width="0.12" textLength="55.72" lengthAdjust="spacingAndGlyphs">Donor-engrafted</text>
<text transform="translate(326.70,338.10) rotate(-45)" x="-4.85" y="2.55" font-size="7.30" fill="#2b2b2b" stroke="#2b2b2b" stroke-width="0.12" textLength="9.91" lengthAdjust="spacingAndGlyphs">CH</text>
<path d="M404.6,236.6 H461.5 V311.15 H375.4 V256.4 H461.5 M404.6,236.6 V311.15" fill="none" stroke="#111" stroke-width="1.3"/>
<line x1="375.40" y1="267.35" x2="461.50" y2="267.35" stroke="#111" stroke-width="1.3" />
<line x1="375.40" y1="278.30" x2="461.50" y2="278.30" stroke="#111" stroke-width="1.3" />
<line x1="375.40" y1="289.25" x2="461.50" y2="289.25" stroke="#111" stroke-width="1.3" />
<line x1="375.40" y1="300.20" x2="461.50" y2="300.20" stroke="#111" stroke-width="1.3" />
<text x="416.95" y="244.60" font-size="7.85" textLength="32.75" lengthAdjust="spacingAndGlyphs" stroke="#2b2b2b" stroke-width="0.12">Time since</text>
<text x="406.60" y="251.80" font-size="7.04" textLength="53.10" lengthAdjust="spacingAndGlyphs" stroke="#2b2b2b" stroke-width="0.12">transplant [years]</text>
<text x="380.96" y="264.10" font-size="7.27" textLength="13.05" lengthAdjust="spacingAndGlyphs" stroke="#2b2b2b" stroke-width="0.12">DR1</text>
<text x="429.43" y="264.10" font-size="7.30" textLength="7.72" lengthAdjust="spacingAndGlyphs" stroke="#2b2b2b" stroke-width="0.12">13</text>
<text x="380.93" y="275.05" font-size="7.27" textLength="13.98" lengthAdjust="spacingAndGlyphs" stroke="#2b2b2b" stroke-width="0.12">DR3</text>
<text x="429.36" y="275.05" font-size="7.41" textLength="7.83" lengthAdjust="spacingAndGlyphs" stroke="#2b2b2b" stroke-width="0.12">15</text>
<text x="380.93" y="286.00" font-size="7.27" textLength="17.71" lengthAdjust="spacingAndGlyphs" stroke="#2b2b2b" stroke-width="0.12">DR21</text>
<text x="429.32" y="286.00" font-size="7.41" textLength="7.83" lengthAdjust="spacingAndGlyphs" stroke="#2b2b2b" stroke-width="0.12">14</text>
<text x="380.93" y="296.95" font-size="7.27" textLength="17.67" lengthAdjust="spacingAndGlyphs" stroke="#2b2b2b" stroke-width="0.12">DR28</text>
<text x="429.43" y="296.95" font-size="7.30" textLength="7.72" lengthAdjust="spacingAndGlyphs" stroke="#2b2b2b" stroke-width="0.12">16</text>
<text x="380.93" y="307.90" font-size="7.27" textLength="17.66" lengthAdjust="spacingAndGlyphs" stroke="#2b2b2b" stroke-width="0.12">DR45</text>
<text x="429.54" y="307.90" font-size="7.30" textLength="7.72" lengthAdjust="spacingAndGlyphs" stroke="#2b2b2b" stroke-width="0.12">21</text>
<text x="7.58" y="370.60" font-size="13.37" font-weight="bold" fill="#000" textLength="8.20" lengthAdjust="spacingAndGlyphs" stroke="#000" stroke-width="0.4">E</text>
<text x="99.60" y="377.30" font-size="7.70" font-weight="bold" fill="#0a0a0a" textLength="49.85" lengthAdjust="spacingAndGlyphs" stroke="#0a0a0a" stroke-width="0.2">allo-HSCT 1996</text>
<text x="330.60" y="377.50" font-size="8.28" font-weight="bold" fill="#0a0a0a" textLength="67.80" lengthAdjust="spacingAndGlyphs" stroke="#0a0a0a" stroke-width="0.2">Study inclusion 2017</text>
<ellipse cx="124.70" cy="388.30" rx="3.3" ry="3.75" fill="#2E4C7F" stroke="#203c74" stroke-width="0.5"/>
<path d="M124.70,392.20 L123.10,392.30 L123.00,393.50 L120.30,394.00 L118.40,394.60 L117.40,395.60 L116.80,397.60 L116.10,400.10 L115.10,403.60 L114.20,406.60 L113.10,409.20 L112.30,410.40 L111.20,410.90 L110.90,411.60 L111.60,412.20 L111.50,413.80 L112.40,414.80 L113.40,414.60 L114.10,413.10 L114.70,411.40 L115.20,410.00 L116.20,406.60 L117.50,402.60 L118.70,399.60 L119.50,398.20 L119.80,400.10 L119.90,404.60 L119.90,408.60 L119.60,411.60 L119.50,413.60 L119.90,417.60 L120.30,422.60 L120.80,426.60 L121.70,431.10 L121.90,432.90 L120.10,434.80 L119.10,436.20 L119.90,437.00 L121.50,436.60 L123.30,434.60 L123.70,433.10 L123.60,429.10 L123.90,422.60 L124.10,417.60 L124.35,414.60 L124.70,413.90 L125.05,414.60 L125.30,417.60 L125.50,422.60 L125.80,429.10 L125.70,433.10 L126.10,434.60 L127.90,436.60 L129.50,437.00 L130.30,436.20 L129.30,434.80 L127.50,432.90 L127.70,431.10 L128.60,426.60 L129.10,422.60 L129.50,417.60 L129.90,413.60 L129.80,411.60 L129.50,408.60 L129.50,404.60 L129.60,400.10 L129.90,398.20 L130.70,399.60 L131.90,402.60 L133.20,406.60 L134.20,410.00 L134.70,411.40 L135.30,413.10 L136.00,414.60 L137.00,414.80 L137.90,413.80 L137.80,412.20 L138.50,411.60 L138.20,410.90 L137.10,410.40 L136.30,409.20 L135.20,406.60 L134.30,403.60 L133.30,400.10 L132.60,397.60 L132.00,395.60 L131.00,394.60 L129.10,394.00 L126.40,393.50 L126.30,392.30 Z" fill="#2E4C7F" stroke="#203c74" stroke-width="0.5" stroke-linejoin="round"/>
<rect x="123.10" y="390.60" width="3.2" height="3.2" fill="#2E4C7F"/>
<ellipse cx="364.30" cy="388.30" rx="3.3" ry="3.75" fill="#2E4C7F" stroke="#203c74" stroke-width="0.5"/>
<path d="M364.30,392.20 L362.70,392.30 L362.60,393.50 L359.90,394.00 L358.00,394.60 L357.00,395.60 L356.40,397.60 L355.70,400.10 L354.70,403.60 L353.80,406.60 L352.70,409.20 L351.90,410.40 L350.80,410.90 L350.50,411.60 L351.20,412.20 L351.10,413.80 L352.00,414.80 L353.00,414.60 L353.70,413.10 L354.30,411.40 L354.80,410.00 L355.80,406.60 L357.10,402.60 L358.30,399.60 L359.10,398.20 L359.40,400.10 L359.50,404.60 L359.50,408.60 L359.20,411.60 L359.10,413.60 L359.50,417.60 L359.90,422.60 L360.40,426.60 L361.30,431.10 L361.50,432.90 L359.70,434.80 L358.70,436.20 L359.50,437.00 L361.10,436.60 L362.90,434.60 L363.30,433.10 L363.20,429.10 L363.50,422.60 L363.70,417.60 L363.95,414.60 L364.30,413.90 L364.65,414.60 L364.90,417.60 L365.10,422.60 L365.40,429.10 L365.30,433.10 L365.70,434.60 L367.50,436.60 L369.10,437.00 L369.90,436.20 L368.90,434.80 L367.10,432.90 L367.30,431.10 L368.20,426.60 L368.70,422.60 L369.10,417.60 L369.50,413.60 L369.40,411.60 L369.10,408.60 L369.10,404.60 L369.20,400.10 L369.50,398.20 L370.30,399.60 L371.50,402.60 L372.80,406.60 L373.80,410.00 L374.30,411.40 L374.90,413.10 L375.60,414.60 L376.60,414.80 L377.50,413.80 L377.40,412.20 L378.10,411.60 L377.80,410.90 L376.70,410.40 L375.90,409.20 L374.80,406.60 L373.90,403.60 L372.90,400.10 L372.20,397.60 L371.60,395.60 L370.60,394.60 L368.70,394.00 L366.00,393.50 L365.90,392.30 Z" fill="#2E4C7F" stroke="#203c74" stroke-width="0.5" stroke-linejoin="round"/>
<rect x="362.70" y="390.60" width="3.2" height="3.2" fill="#2E4C7F"/>
<ellipse cx="124.70" cy="460.20" rx="3.3" ry="3.75" fill="#A3002A" stroke="#92001f" stroke-width="0.5"/>
<path d="M124.70,464.10 L123.10,464.20 L123.00,465.40 L120.30,465.90 L118.40,466.50 L117.40,467.50 L116.80,469.50 L116.10,472.00 L115.10,475.50 L114.20,478.50 L113.10,481.10 L112.30,482.30 L111.20,482.80 L110.90,483.50 L111.60,484.10 L111.50,485.70 L112.40,486.70 L113.40,486.50 L114.10,485.00 L114.70,483.30 L115.20,481.90 L116.20,478.50 L117.50,474.50 L118.70,471.50 L119.50,470.10 L119.80,472.00 L119.90,476.50 L119.90,480.50 L119.60,483.50 L119.50,485.50 L119.90,489.50 L120.30,494.50 L120.80,498.50 L121.70,503.00 L121.90,504.80 L120.10,506.70 L119.10,508.10 L119.90,508.90 L121.50,508.50 L123.30,506.50 L123.70,505.00 L123.60,501.00 L123.90,494.50 L124.10,489.50 L124.35,486.50 L124.70,485.80 L125.05,486.50 L125.30,489.50 L125.50,494.50 L125.80,501.00 L125.70,505.00 L126.10,506.50 L127.90,508.50 L129.50,508.90 L130.30,508.10 L129.30,506.70 L127.50,504.80 L127.70,503.00 L128.60,498.50 L129.10,494.50 L129.50,489.50 L129.90,485.50 L129.80,483.50 L129.50,480.50 L129.50,476.50 L129.60,472.00 L129.90,470.10 L130.70,471.50 L131.90,474.50 L133.20,478.50 L134.20,481.90 L134.70,483.30 L135.30,485.00 L136.00,486.50 L137.00,486.70 L137.90,485.70 L137.80,484.10 L138.50,483.50 L138.20,482.80 L137.10,482.30 L136.30,481.10 L135.20,478.50 L134.30,475.50 L133.30,472.00 L132.60,469.50 L132.00,467.50 L131.00,466.50 L129.10,465.90 L126.40,465.40 L126.30,464.20 Z" fill="#A3002A" stroke="#92001f" stroke-width="0.5" stroke-linejoin="round"/>
<rect x="123.10" y="462.50" width="3.2" height="3.2" fill="#A3002A"/>
<ellipse cx="364.80" cy="460.50" rx="3.3" ry="3.75" fill="#A3002A" stroke="#92001f" stroke-width="0.5"/>
<path d="M364.80,464.40 L363.20,464.50 L363.10,465.70 L360.40,466.20 L358.50,466.80 L357.50,467.80 L356.90,469.80 L356.20,472.30 L355.20,475.80 L354.30,478.80 L353.20,481.40 L352.40,482.60 L351.30,483.10 L351.00,483.80 L351.70,484.40 L351.60,486.00 L352.50,487.00 L353.50,486.80 L354.20,485.30 L354.80,483.60 L355.30,482.20 L356.30,478.80 L357.60,474.80 L358.80,471.80 L359.60,470.40 L359.90,472.30 L360.00,476.80 L360.00,480.80 L359.70,483.80 L359.60,485.80 L360.00,489.80 L360.40,494.80 L360.90,498.80 L361.80,503.30 L362.00,505.10 L360.20,507.00 L359.20,508.40 L360.00,509.20 L361.60,508.80 L363.40,506.80 L363.80,505.30 L363.70,501.30 L364.00,494.80 L364.20,489.80 L364.45,486.80 L364.80,486.10 L365.15,486.80 L365.40,489.80 L365.60,494.80 L365.90,501.30 L365.80,505.30 L366.20,506.80 L368.00,508.80 L369.60,509.20 L370.40,508.40 L369.40,507.00 L367.60,505.10 L367.80,503.30 L368.70,498.80 L369.20,494.80 L369.60,489.80 L370.00,485.80 L369.90,483.80 L369.60,480.80 L369.60,476.80 L369.70,472.30 L370.00,470.40 L370.80,471.80 L372.00,474.80 L373.30,478.80 L374.30,482.20 L374.80,483.60 L375.40,485.30 L376.10,486.80 L377.10,487.00 L378.00,486.00 L377.90,484.40 L378.60,483.80 L378.30,483.10 L377.20,482.60 L376.40,481.40 L375.30,478.80 L374.40,475.80 L373.40,472.30 L372.70,469.80 L372.10,467.80 L371.10,466.80 L369.20,466.20 L366.50,465.70 L366.40,464.50 Z" fill="#A3002A" stroke="#92001f" stroke-width="0.5" stroke-linejoin="round"/>
<rect x="363.20" y="462.80" width="3.2" height="3.2" fill="#A3002A"/>
<line x1="145.80" y1="393.95" x2="337.00" y2="393.95" stroke="#4a4a4a" stroke-width="1.3" />
<path d="M341.40,393.95 L335.40,396.85 L336.60,393.95 L335.40,391.05 Z" fill="#000"/>
<line x1="145.80" y1="504.60" x2="337.00" y2="504.60" stroke="#4a4a4a" stroke-width="1.3" />
<path d="M341.50,504.60 L335.50,507.50 L336.70,504.60 L335.50,501.70 Z" fill="#000"/>
<text x="145.44" y="391.50" font-size="7.19" textLength="90.38" lengthAdjust="spacingAndGlyphs" stroke="#2b2b2b" stroke-width="0.12">Clonal evolution of CH clone</text>
<text x="257.62" y="391.30" font-size="7.19" textLength="64.01" lengthAdjust="spacingAndGlyphs" stroke="#2b2b2b" stroke-width="0.12">MDS MLD (dx 2014)</text>
<text x="258.36" y="406.30" font-size="6.83" textLength="71.89" lengthAdjust="spacingAndGlyphs" stroke="#2b2b2b" stroke-width="0.12">18 years after donation</text>
<text x="145.44" y="501.90" font-size="7.19" textLength="90.38" lengthAdjust="spacingAndGlyphs" stroke="#2b2b2b" stroke-width="0.12">Clonal evolution of CH clone</text>
<text x="257.43" y="501.90" font-size="7.19" textLength="73.50" lengthAdjust="spacingAndGlyphs" stroke="#2b2b2b" stroke-width="0.12">MDS RAEB-2 (dx 2017)</text>
<text x="257.64" y="515.50" font-size="6.83" textLength="92.42" lengthAdjust="spacingAndGlyphs" stroke="#2b2b2b" stroke-width="0.12">21 years after transplantation</text>
<text x="137.83" y="425.40" font-size="7.19" textLength="38.41" lengthAdjust="spacingAndGlyphs" stroke="#2b2b2b" stroke-width="0.12">Donor (D45)</text>
<text x="146.36" y="433.20" font-size="6.59" textLength="22.18" lengthAdjust="spacingAndGlyphs" stroke="#2b2b2b" stroke-width="0.12">(50 yo)</text>
<text x="133.43" y="463.50" font-size="7.19" textLength="48.00" lengthAdjust="spacingAndGlyphs" stroke="#2b2b2b" stroke-width="0.12">Recipient (R45)</text>
<text x="146.57" y="471.60" font-size="6.87" textLength="21.35" lengthAdjust="spacingAndGlyphs" stroke="#2b2b2b" stroke-width="0.12">(46 yo)</text>
<text x="310.30" y="425.10" font-size="7.19" textLength="40.05" lengthAdjust="spacingAndGlyphs" stroke="#2b2b2b" stroke-width="0.12">Donor (D45)</text>
<text x="319.46" y="432.60" font-size="6.69" textLength="22.08" lengthAdjust="spacingAndGlyphs" stroke="#2b2b2b" stroke-width="0.12">(71 yo)</text>
<text x="306.53" y="463.20" font-size="7.19" textLength="48.10" lengthAdjust="spacingAndGlyphs" stroke="#2b2b2b" stroke-width="0.12">Recipient (R45)</text>
<text x="319.35" y="471.70" font-size="6.73" textLength="22.39" lengthAdjust="spacingAndGlyphs" stroke="#2b2b2b" stroke-width="0.12">(67 yo)</text>
<path d="M110.6,394.1 A76.5,76.5 0 0 0 106.2,499.6" fill="none" stroke="#111" stroke-width="1.1"/>
<path d="M110.50,504.00 L104.63,501.67 L107.18,500.68 L108.17,498.13 Z" fill="#000"/>
<defs><radialGradient id="gw" cx="0.55" cy="0.58" r="0.55"><stop offset="0" stop-color="#ffffff"/><stop offset="0.55" stop-color="#f6fcea"/><stop offset="1" stop-color="#bfe08a"/></radialGradient></defs>
<circle cx="87.40" cy="447.30" r="5.10" fill="#86ac1e" stroke="#445a12" stroke-width="0.7"/>
<circle cx="87.80" cy="447.90" r="3.35" fill="url(#gw)" />
<text x="51.44" y="431.00" font-size="7.27" textLength="29.07" lengthAdjust="spacingAndGlyphs" stroke="#2b2b2b" stroke-width="0.12">CH clone</text>
<path d="M54.4,436.0 H77.9 V469.0 H14.5 V446.8 H77.9 M54.4,436.0 V469.0 M14.5,458.1 H77.9" fill="none" stroke="#111" stroke-width="1.3"/>
<text x="59.77" y="444.10" font-size="6.83" textLength="13.30" lengthAdjust="spacingAndGlyphs" stroke="#2b2b2b" stroke-width="0.12">VAF</text>
<text x="15.38" y="456.00" font-size="7.56" font-style="italic" fill="#5B9BD5" textLength="16.92" lengthAdjust="spacingAndGlyphs" stroke="#5B9BD5" stroke-width="0.12">TET2</text>
<text x="33.53" y="452.70" font-size="4.94" fill="#5B9BD5" textLength="12.54" lengthAdjust="spacingAndGlyphs" stroke="#5B9BD5" stroke-width="0.12">R550*</text>
<text x="15.45" y="466.70" font-size="7.41" font-style="italic" fill="#5B9BD5" textLength="22.76" lengthAdjust="spacingAndGlyphs" stroke="#5B9BD5" stroke-width="0.12">U2AF1</text>
<text x="38.68" y="463.70" font-size="4.94" fill="#5B9BD5" textLength="14.78" lengthAdjust="spacingAndGlyphs" stroke="#5B9BD5" stroke-width="0.12">Q157P</text>
<text x="64.57" y="455.10" font-size="6.87" fill="#5B9BD5" textLength="3.14" lengthAdjust="spacingAndGlyphs" stroke="#5B9BD5" stroke-width="0.12">?</text>
<text x="64.57" y="466.30" font-size="7.02" fill="#5B9BD5" textLength="3.14" lengthAdjust="spacingAndGlyphs" stroke="#5B9BD5" stroke-width="0.12">?</text>
<path d="M379.1,393.9 Q398,413.3 401.3,439.0" fill="none" stroke="#111" stroke-width="1.1"/>
<path d="M401.40,444.10 L398.32,438.70 L401.09,439.61 L403.70,438.33 Z" fill="#000"/>
<path d="M379.4,504.5 Q398,485.5 401.2,460.6" fill="none" stroke="#111" stroke-width="1.1"/>
<path d="M401.40,455.30 L403.70,461.07 L401.09,459.79 L398.32,460.70 Z" fill="#000"/>
<text x="397.40" y="417.10" font-size="7.19" textLength="41.36" lengthAdjust="spacingAndGlyphs" stroke="#2b2b2b" stroke-width="0.12">Granulocytes</text>
<text x="397.35" y="482.50" font-size="7.19" textLength="41.00" lengthAdjust="spacingAndGlyphs" stroke="#2b2b2b" stroke-width="0.12">Granulocytes</text>
<text x="386.54" y="450.60" font-size="7.19" textLength="29.02" lengthAdjust="spacingAndGlyphs" stroke="#2b2b2b" stroke-width="0.12">Compare</text>
<path d="M489.4,376.90 H512.5 V432.30 H444.5 V388.30 H512.5 M489.4,376.90 V432.30" fill="none" stroke="#111" stroke-width="1.3"/>
<line x1="444.50" y1="399.40" x2="512.50" y2="399.40" stroke="#111" stroke-width="1.3" />
<line x1="444.50" y1="410.30" x2="512.50" y2="410.30" stroke="#111" stroke-width="1.3" />
<line x1="444.50" y1="421.40" x2="512.50" y2="421.40" stroke="#111" stroke-width="1.3" />
<text x="494.27" y="384.90" font-size="6.69" textLength="12.89" lengthAdjust="spacingAndGlyphs" stroke="#2b2b2b" stroke-width="0.12">VAF</text>
<text x="448.29" y="397.10" font-size="7.41" font-style="italic" fill="#5B9BD5" textLength="16.61" lengthAdjust="spacingAndGlyphs" stroke="#5B9BD5" stroke-width="0.12">TET2</text>
<text x="466.02" y="394.10" font-size="4.80" fill="#5B9BD5" textLength="12.75" lengthAdjust="spacingAndGlyphs" stroke="#5B9BD5" stroke-width="0.12">R550*</text>
<text x="448.39" y="407.70" font-size="7.12" font-style="italic" fill="#5B9BD5" textLength="21.39" lengthAdjust="spacingAndGlyphs" stroke="#5B9BD5" stroke-width="0.12">U2AF1</text>
<text x="470.97" y="404.70" font-size="4.94" fill="#5B9BD5" textLength="14.98" lengthAdjust="spacingAndGlyphs" stroke="#5B9BD5" stroke-width="0.12">Q157P</text>
<text x="448.72" y="419.10" font-size="7.12" font-style="italic" fill="#111" textLength="20.13" lengthAdjust="spacingAndGlyphs" stroke="#111" stroke-width="0.12">ASXL1</text>
<text x="470.29" y="415.90" font-size="4.94" fill="#111" textLength="12.68" lengthAdjust="spacingAndGlyphs" stroke="#111" stroke-width="0.12">Q760*</text>
<text x="448.30" y="429.70" font-size="7.12" font-style="italic" fill="#111" textLength="16.19" lengthAdjust="spacingAndGlyphs" stroke="#111" stroke-width="0.12">TET2</text>
<text x="465.89" y="426.50" font-size="4.94" fill="#111" textLength="12.27" lengthAdjust="spacingAndGlyphs" stroke="#111" stroke-width="0.12">Q967*</text>
<text x="493.63" y="395.80" font-size="6.66" fill="#5B9BD5" textLength="13.58" lengthAdjust="spacingAndGlyphs" stroke="#5B9BD5" stroke-width="0.12">0.43</text>
<text x="493.63" y="406.90" font-size="6.66" fill="#5B9BD5" textLength="13.63" lengthAdjust="spacingAndGlyphs" stroke="#5B9BD5" stroke-width="0.12">0.42</text>
<text x="493.63" y="417.80" font-size="6.66" fill="#111" textLength="13.63" lengthAdjust="spacingAndGlyphs" stroke="#111" stroke-width="0.12">0.37</text>
<text x="493.63" y="428.90" font-size="6.66" fill="#111" textLength="13.60" lengthAdjust="spacingAndGlyphs" stroke="#111" stroke-width="0.12">0.29</text>
<path d="M489.4,459.30 H512.5 V514.70 H444.5 V470.30 H512.5 M489.4,459.30 V514.70" fill="none" stroke="#111" stroke-width="1.3"/>
<line x1="444.50" y1="481.50" x2="512.50" y2="481.50" stroke="#111" stroke-width="1.3" />
<line x1="444.50" y1="492.70" x2="512.50" y2="492.70" stroke="#111" stroke-width="1.3" />
<line x1="444.50" y1="503.70" x2="512.50" y2="503.70" stroke="#111" stroke-width="1.3" />
<text x="494.27" y="467.30" font-size="6.69" textLength="12.89" lengthAdjust="spacingAndGlyphs" stroke="#2b2b2b" stroke-width="0.12">VAF</text>
<text x="447.30" y="479.40" font-size="7.12" font-style="italic" fill="#5B9BD5" textLength="16.19" lengthAdjust="spacingAndGlyphs" stroke="#5B9BD5" stroke-width="0.12">TET2</text>
<text x="464.83" y="476.10" font-size="5.09" fill="#5B9BD5" textLength="12.64" lengthAdjust="spacingAndGlyphs" stroke="#5B9BD5" stroke-width="0.12">R550*</text>
<text x="447.39" y="490.40" font-size="7.12" font-style="italic" fill="#5B9BD5" textLength="21.39" lengthAdjust="spacingAndGlyphs" stroke="#5B9BD5" stroke-width="0.12">U2AF1</text>
<text x="469.88" y="487.10" font-size="5.09" fill="#5B9BD5" textLength="14.67" lengthAdjust="spacingAndGlyphs" stroke="#5B9BD5" stroke-width="0.12">Q157P</text>
<text x="447.32" y="501.40" font-size="7.12" font-style="italic" fill="#111" textLength="21.28" lengthAdjust="spacingAndGlyphs" stroke="#111" stroke-width="0.12">STAG2</text>
<text x="469.72" y="497.60" font-size="5.09" fill="#111" textLength="12.75" lengthAdjust="spacingAndGlyphs" stroke="#111" stroke-width="0.12">R259*</text>
<text x="447.32" y="512.30" font-size="7.27" font-style="italic" fill="#111" textLength="24.62" lengthAdjust="spacingAndGlyphs" stroke="#111" stroke-width="0.12">SETBP1</text>
<text x="473.07" y="508.60" font-size="5.09" fill="#111" textLength="14.14" lengthAdjust="spacingAndGlyphs" stroke="#111" stroke-width="0.12">G870S</text>
<text x="493.63" y="477.80" font-size="6.66" fill="#5B9BD5" textLength="13.56" lengthAdjust="spacingAndGlyphs" stroke="#5B9BD5" stroke-width="0.12">0.45</text>
<text x="493.63" y="489.00" font-size="6.66" fill="#5B9BD5" textLength="13.47" lengthAdjust="spacingAndGlyphs" stroke="#5B9BD5" stroke-width="0.12">0.44</text>
<text x="493.63" y="500.20" font-size="6.66" fill="#111" textLength="13.47" lengthAdjust="spacingAndGlyphs" stroke="#111" stroke-width="0.12">0.44</text>
<text x="493.63" y="511.20" font-size="6.66" fill="#111" textLength="13.47" lengthAdjust="spacingAndGlyphs" stroke="#111" stroke-width="0.12">0.04</text>
<rect x="0.5" y="0.5" width="519" height="524" fill="none" stroke="#000" stroke-width="1.2"/>
</svg>
</body></html>
